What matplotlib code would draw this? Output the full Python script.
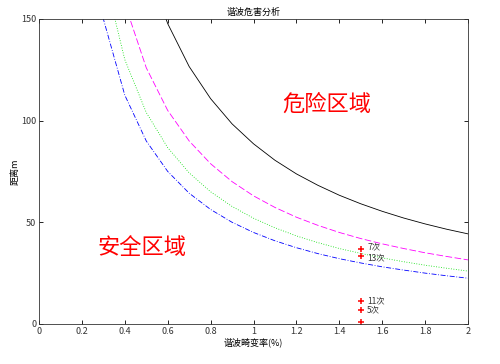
import matplotlib.pyplot as plt
import numpy as np

plt.rcParams['font.family'] = ['Noto Sans CJK SC', 'DejaVu Sans']

# curves (x in %, y in m)
x_black = [0.5, 0.6, 0.7, 0.8, 0.9, 1.0, 1.1, 1.2, 1.3, 1.4, 1.5, 1.6, 1.7, 1.8, 1.9, 2.0]
y_black = [177, 147.7, 126.6, 110.8, 98.4, 88.6, 80.5, 73.8, 68.2, 63.3, 59.1, 55.4, 52.1, 49.2, 46.6, 44.3]

x_mag = [0.4, 0.5, 0.6, 0.7, 0.8, 0.9, 1.0, 1.1, 1.2, 1.3, 1.4, 1.5, 1.6, 1.7, 1.8, 1.9, 2.0]
y_mag = [157.5, 126, 105, 90, 78.8, 70, 63, 57.3, 52.5, 48.5, 45, 42, 39.4, 37.1, 35, 33.2, 31.5]

x_green = [0.3, 0.4, 0.5, 0.6, 0.7, 0.8, 0.9, 1.0, 1.1, 1.2, 1.3, 1.4, 1.5, 1.6, 1.7, 1.8, 1.9, 2.0]
y_green = [173.3, 130, 104, 86.7, 74.3, 65, 57.8, 52, 47.3, 43.3, 40, 37.1, 34.7, 32.5, 30.6, 28.9, 27.4, 26]

x_blue = [0.2, 0.3, 0.4, 0.5, 0.6, 0.7, 0.8, 0.9, 1.0, 1.1, 1.2, 1.3, 1.4, 1.5, 1.6, 1.7, 1.8, 1.9, 2.0]
y_blue = [225, 150, 112.5, 90, 75, 64.3, 56.3, 50, 45, 40.9, 37.5, 34.6, 32.1, 30, 28.1, 26.5, 25, 23.7, 22.5]

# measured harmonic points
pt_x = [1.5, 1.5, 1.5, 1.5, 1.5]
pt_y = [36.9, 33.4, 11.3, 6.9, 1.0]
pt_labels = ['7次', '13次', '11次', '5次', '']
label_dy = [0.8, -0.8, 0, 0, 0]

fig = plt.figure(figsize=(5, 3.64), dpi=100)
ax = fig.add_axes([0.078, 0.11, 0.858, 0.838])

ax.plot(x_black, y_black, color='black', lw=0.6, ls='-')
ax.plot(x_mag, y_mag, color='magenta', lw=0.6, ls=(0, (8, 3)))
ax.plot(x_green, y_green, color='#00dd00', lw=0.6, ls=(0, (1, 2)))
ax.plot(x_blue, y_blue, color='blue', lw=0.6, ls=(0, (6, 2, 1, 2)))

ax.plot(pt_x, pt_y, ls='none', marker='+', color='red', ms=4.5, mew=1.1)
for x, y, lab, dy in zip(pt_x, pt_y, pt_labels, label_dy):
    if lab:
        ax.text(x + 0.03, y + dy, lab, fontsize=6, va='center', ha='left', color='#333333')

ax.text(1.34, 108, '危险区域', color='red', fontsize=16, ha='center', va='center')
ax.text(0.48, 37.4, '安全区域', color='red', fontsize=16, ha='center', va='center')

ax.set_xlim(0, 2)
ax.set_ylim(0, 150)
ax.set_xticks(np.arange(0, 2.01, 0.2))
ax.set_xticklabels(['0', '0.2', '0.4', '0.6', '0.8', '1', '1.2', '1.4', '1.6', '1.8', '2'])
ax.set_yticks([0, 50, 100, 150])
ax.tick_params(direction='in', top=True, right=True, labelsize=6.5, length=3, width=0.6, pad=2,
               labelcolor='#333333')
for s in ax.spines.values():
    s.set_linewidth(0.6)
    s.set_color('#333333')

ax.set_title('谐波危害分析', fontsize=6.5, pad=3)
ax.set_xlabel('谐波畸变率(%)', fontsize=6.5, labelpad=1)
ax.set_ylabel('距离m', fontsize=6.5, labelpad=1)

fig.savefig('out.png', dpi=100)
